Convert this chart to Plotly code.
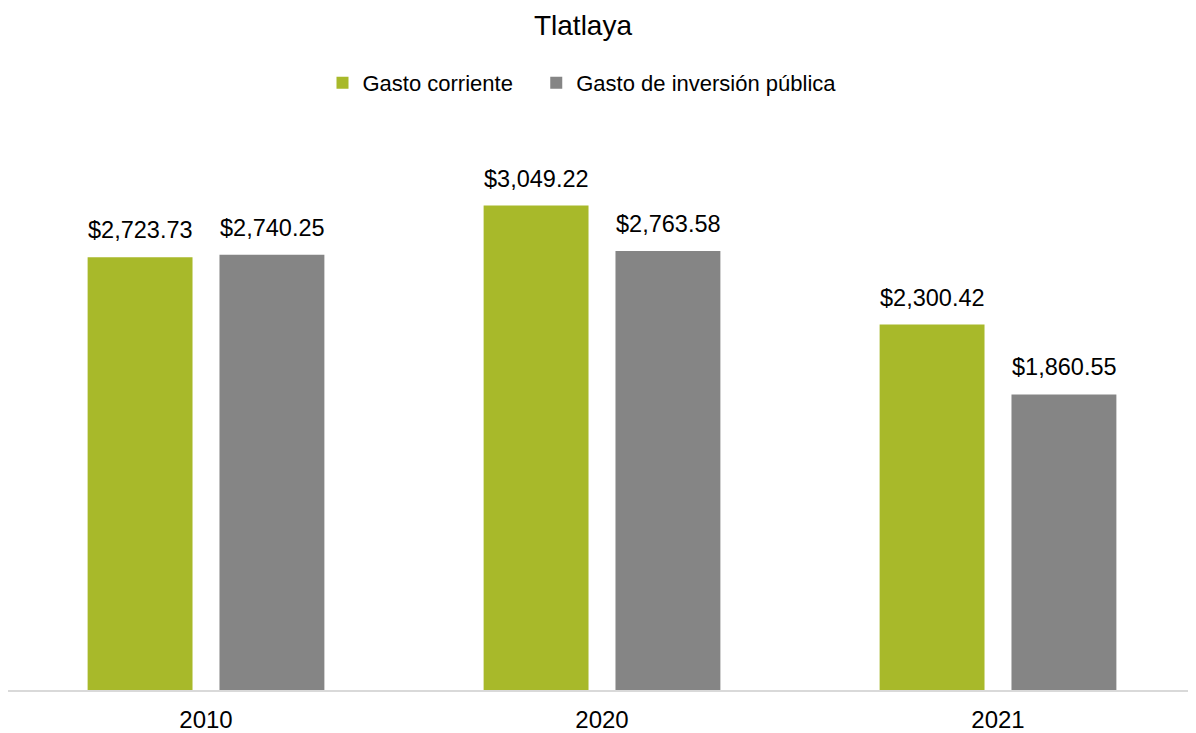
import plotly.graph_objects as go

# datos
anios = ["2010", "2020", "2021"]
gasto_corriente = [2723.73, 3049.22, 2300.42]
gasto_inversion = [2740.25, 2763.58, 1860.55]

verde = "#A8B92A"
gris = "#858585"
fuente = "Liberation Sans, Arial, sans-serif"

# la página html deja 8px de margen, así que la figura es algo más pequeña
ancho, alto = 1188, 725

fig = go.Figure()
# espacios duros al final para separar más las entradas de la leyenda
fig.add_trace(go.Bar(x=anios, y=gasto_corriente, name="Gasto corriente\u00a0\u00a0\u00a0",
                     marker=dict(color=verde, line=dict(width=0))))
fig.add_trace(go.Bar(x=anios, y=gasto_inversion, name="Gasto de inversión pública",
                     marker=dict(color=gris, line=dict(width=0))))

# etiquetas de valor encima de cada barra (x por índice de categoría)
for serie, desplaz in ((gasto_corriente, -66), (gasto_inversion, 66)):
    for i, v in enumerate(serie):
        fig.add_annotation(x=i, y=v, text=f"${v:,.2f}", showarrow=False,
                           xshift=desplaz, yshift=12, yanchor="bottom",
                           font=dict(size=23.5, color="#000000", family=fuente))

fig.update_layout(
    width=ancho, height=alto,
    paper_bgcolor="white", plot_bgcolor="white",
    margin=dict(l=0, r=0, t=126, b=39),
    barmode="group", bargap=0.334, bargroupgap=0.2045,
    font=dict(family=fuente, color="#000000"),
    title=dict(text="Tlatlaya", x=575 / ancho, xanchor="center", xref="container",
               y=1 - 17 / alto, yanchor="middle", yref="container",
               font=dict(size=28, color="#000000", family=fuente)),
    legend=dict(orientation="h", x=574 / ancho, xanchor="center", xref="container",
                y=1 - 75 / alto, yanchor="middle", yref="container",
                font=dict(size=22, color="#000000", family=fuente),
                traceorder="normal"),
    showlegend=True,
)
fig.update_xaxes(type="category", showline=True, linecolor="#D9D9D9", linewidth=2,
                 ticks="", tickfont=dict(size=24, color="#000000", family=fuente),
                 ticklabelstandoff=7,
                 showgrid=False, zeroline=False, range=[-0.5, 2.5])
fig.update_yaxes(range=[0, 3500], visible=False, showgrid=False, zeroline=False)

fig.write_html("out.html")
